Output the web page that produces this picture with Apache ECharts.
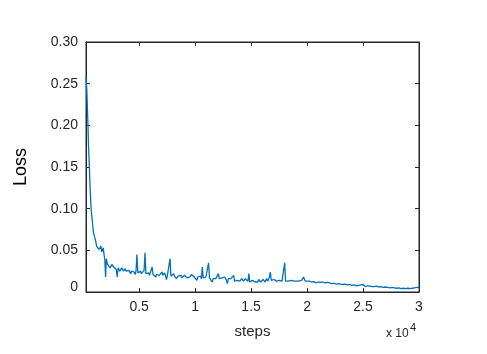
<!DOCTYPE html>
<html><head><meta charset="utf-8">
<script src="https://cdn.jsdelivr.net/npm/echarts@6/dist/echarts.min.js"></script>
<style>html,body{margin:0;padding:0;background:#fff}#c{width:487px;height:354px}</style>
</head><body><div id="c"></div>
<script>
const steps = [250,320,410,470,560,620,710,800,910,1000,1100,1200,1300,1400,1500,1580,1650,1720,1790,1860,1930,2000,
2070,2150,2230,2310,2400,2480,2560,2640,2720,2800,2880,2960,3040,3120,3200,3280,3360,3440,3520,3600,3680,3760,3840,3920,
4000,4080,4160,4240,4320,4400,4480,4560,4640,4720,4800,4880,4960,5040,5120,5200,5280,5360,5440,5520,5600,5680,5760,5840,5920,
6000,6080,6160,6240,6320,6400,6480,6560,6640,6720,6800,6880,6960,7040,7120,7200,7280,7360,7440,7520,7600,7680,7760,7840,7920,
8000,8080,8160,8240,8320,8400,8480,8560,8640,8720,8800,8880,8960,9040,9120,9200,9280,9360,9440,9520,9600,9680,9760,9840,9920,
10000,10080,10160,10240,10320,10400,10480,10560,10640,10720,10800,10880,10960,11040,11120,11200,11280,11360,11440,11520,11600,11680,11760,11840,11920,
12000,12080,12160,12240,12320,12400,12480,12560,12640,12720,12800,12880,12960,13040,13120,13200,13280,13360,13440,13520,13600,13680,13760,13840,13920,
14000,14080,14160,14240,14320,14400,14480,14560,14640,14720,14800,14880,14960,15040,15120,15200,15280,15360,15440,15520,15600,15680,15760,15840,15920,
16000,16080,16160,16240,16320,16400,16480,16560,16640,16720,16800,16880,16960,17040,17120,17200,17280,17360,17440,17520,17600,17680,17760,17840,17920,
18000,18080,18160,18240,18320,18400,18560,18720,18880,19040,19200,19360,19520,19680,19840,
20000,20200,20400,20600,20800,21000,21200,21400,21600,21800,22000,22200,22400,22600,22800,23000,23200,23400,23600,23800,
24000,24200,24400,24600,24800,25000,25200,25400,25600,25800,26000,26200,26400,26600,26800,27000,27200,27400,27600,27800,
28000,28200,28400,28600,28800,29000,29200,29400,29600,29800,30000];
const loss = [0.258,0.243,0.207,0.177,0.147,0.123,0.099,0.087,0.072,0.067,0.062,0.055,0.057,0.051,0.053,0.055,0.048,0.047,0.053,0.045,0.039,0.018,
0.040,0.034,0.032,0.036,0.029,0.030,0.033,0.035,0.030,0.028,0.031,0.027,0.018,0.029,0.028,0.025,0.026,0.029,0.031,0.025,0.024,0.028,0.025,0.027,
0.023,0.026,0.024,0.022,0.025,0.027,0.023,0.024,0.021,0.025,0.045,0.023,0.024,0.021,0.025,0.022,0.020,0.023,0.026,0.047,0.022,0.024,0.021,0.023,0.020,
0.018,0.022,0.030,0.021,0.019,0.022,0.018,0.021,0.019,0.023,0.020,0.018,0.021,0.024,0.020,0.021,0.023,0.019,0.015,0.020,0.022,0.019,0.040,0.019,0.018,
0.021,0.022,0.019,0.020,0.016,0.015,0.019,0.021,0.018,0.020,0.017,0.019,0.018,0.020,0.022,0.018,0.017,0.019,0.015,0.018,0.019,0.021,0.019,0.022,0.018,
0.017,0.016,0.014,0.018,0.019,0.017,0.019,0.016,0.030,0.017,0.016,0.015,0.018,0.016,0.019,0.035,0.017,0.016,0.015,0.012,0.016,0.017,0.015,0.016,0.018,
0.016,0.022,0.016,0.015,0.017,0.017,0.015,0.016,0.018,0.020,0.014,0.010,0.016,0.014,0.015,0.016,0.014,0.017,0.020,0.013,0.012,0.015,0.014,0.016,0.015,
0.013,0.014,0.016,0.015,0.013,0.014,0.016,0.014,0.015,0.013,0.022,0.012,0.011,0.013,0.014,0.013,0.014,0.012,0.013,0.014,0.012,0.015,0.013,0.012,0.014,
0.013,0.015,0.013,0.012,0.014,0.016,0.013,0.015,0.018,0.024,0.014,0.013,0.012,0.015,0.013,0.014,0.013,0.014,0.012,0.014,0.013,0.014,0.013,0.014,0.012,
0.035,0.013,0.012,0.014,0.013,0.012,0.014,0.012,0.013,0.012,0.013,0.012,0.014,0.018,0.013,
0.012,0.013,0.012,0.0125,0.011,0.012,0.0115,0.012,0.011,0.0115,0.011,0.010,0.0105,0.0095,0.010,0.0095,0.009,0.0095,0.0085,0.009,
0.008,0.0085,0.0075,0.008,0.0085,0.009,0.0065,0.0075,0.007,0.0065,0.0065,0.007,0.006,0.0065,0.0055,0.006,0.0055,0.005,0.0055,0.005,
0.0045,0.005,0.004,0.0045,0.004,0.0045,0.004,0.0045,0.005,0.0055,0.0055];
const xTickValues = [5000,10000,15000,20000,25000,30000];
const yTickValues = [0,0.05,0.10,0.15,0.20,0.25,0.30];

const axisColor = '#262626';
const font = 'Liberation Sans, Arial, sans-serif';
const chart = echarts.init(document.getElementById('c'), null, {renderer:'canvas'});
const data = steps.map((s,i)=>[s, loss[i]]);
chart.setOption({
  animation:false,
  backgroundColor:'#fff',
  grid:{left:86,right:68,top:42,bottom:62,show:true,borderColor:axisColor,borderWidth:1,backgroundColor:'#fff'},
  xAxis:[{
    type:'value',min:250,max:30000,position:'bottom',
    axisLine:{show:true,onZero:false,lineStyle:{color:axisColor,width:1}},
    axisTick:{show:true,inside:true,length:4,customValues:xTickValues,lineStyle:{color:axisColor}},
    axisLabel:{customValues:xTickValues,formatter:v=>String(v/10000),color:axisColor,fontSize:14,fontFamily:font,margin:8},
    splitLine:{show:false},
    name:'steps',nameLocation:'middle',nameGap:32,
    nameTextStyle:{color:axisColor,fontSize:15,fontFamily:font}
  },{
    type:'value',min:250,max:30000,position:'top',
    axisLine:{show:true,onZero:false,lineStyle:{color:axisColor,width:1}},
    axisTick:{show:true,inside:true,length:4,customValues:xTickValues,lineStyle:{color:axisColor}},
    axisLabel:{show:false},splitLine:{show:false}
  }],
  yAxis:[{
    type:'value',min:0,max:0.3,interval:0.05,position:'left',
    axisLine:{show:true,onZero:false,lineStyle:{color:axisColor,width:1}},
    axisTick:{show:true,inside:true,length:4,lineStyle:{color:axisColor}},
    axisLabel:{formatter:v=> v===0 ? '{z|0}' : v.toFixed(2),color:axisColor,fontSize:14,fontFamily:font,margin:8,
      rich:{z:{color:axisColor,fontSize:14,fontFamily:font,padding:[0,0,10,0]}}},
    splitLine:{show:false},
    name:'Loss',nameLocation:'middle',nameGap:56,
    nameTextStyle:{color:'#000',fontSize:18,fontFamily:font}
  },{
    type:'value',min:0,max:0.3,interval:0.05,position:'right',
    axisLine:{show:true,onZero:false,lineStyle:{color:axisColor,width:1}},
    axisTick:{show:true,inside:true,length:4,lineStyle:{color:axisColor}},
    axisLabel:{show:false},splitLine:{show:false}
  }],
  graphic:[
    {type:'text',left:386,top:328,style:{text:'x 10',fill:axisColor,fontSize:12,fontFamily:font}},
    {type:'text',left:410,top:322,style:{text:'4',fill:axisColor,fontSize:11,fontFamily:font}}
  ],
  series:[{
    type:'line',data:data,xAxisIndex:0,yAxisIndex:0,showSymbol:false,symbol:'none',
    lineStyle:{color:'#0072BD',width:1.3},itemStyle:{color:'#0072BD'}
  }]
});
</script>
</body></html>
